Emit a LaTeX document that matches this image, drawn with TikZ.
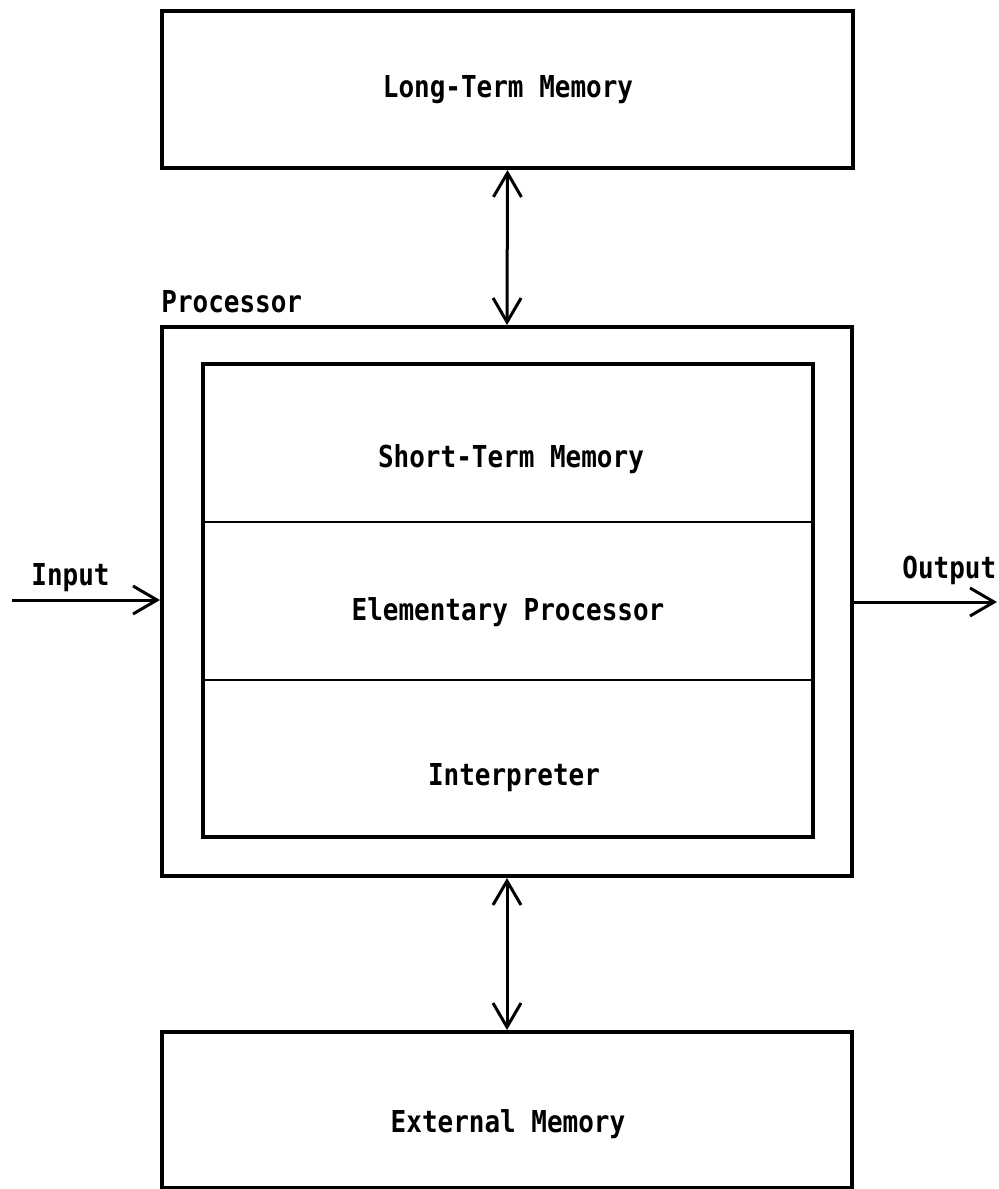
\documentclass[tikz,border=0pt]{standalone}
\usepackage{fontspec}
\setmainfont[FakeStretch=0.86]{DejaVu Sans Mono Bold}
\usetikzlibrary{arrows.meta,fit}
\begin{document}
\begin{tikzpicture}[x=0.5pt,y=-0.5pt,
  box/.style={draw,line width=2pt,inner sep=0pt},
  divider/.style={line width=1.3pt},
  lbl/.style={inner sep=0pt,anchor=base,font=\fontsize{15.1pt}{18pt}\selectfont},
  conn/.style={line width=1.5pt,-{Straight Barb[length=12pt,width=14pt,line width=1.5pt]}},
  biconn/.style={line width=1.5pt,{Straight Barb[length=12pt,width=14pt,line width=1.5pt]}-{Straight Barb[length=12pt,width=14pt,line width=1.5pt]}}]
  \useasboundingbox (0,0) rectangle (998,1189);

  % memories and processor frames
  \node[box,fit={(162,11) (853,168)}] (ltm) {};
  \node[box,fit={(162,327) (852,876)}] (proc) {};
  \node[box,fit={(203,364) (813,837)}] (core) {};
  \node[box,fit={(162,1032) (852,1188)}] (ext) {};

  % sections of the processor core
  \coordinate (d1) at (0,522);
  \coordinate (d2) at (0,680);
  \draw[divider] (core.west |- d1) -- (core.east |- d1);
  \draw[divider] (core.west |- d2) -- (core.east |- d2);

  % labels
  \node[lbl] (ltmtext) at (508,97) {Long-Term Memory};
  \node[lbl,anchor=base west] (proctext) at (161,312) {Processor};
  \node[lbl] (stmtext) at (511,467) {Short-Term Memory};
  \node[lbl] (eptext) at (508,620) {Elementary Processor};
  \node[lbl] (inttext) at (514,785) {Interpreter};
  \node[lbl] (exttext) at (508,1132) {External Memory};
  \node[lbl,anchor=base west] (intext) at (31,585) {Input};
  \node[lbl,anchor=base west] (outtext) at (902,578) {Output};

  % connectors
  \coordinate (inp) at (12,600);
  \coordinate (outp) at (997,602);
  \draw[biconn] (ltm.south) -- (proc.north);
  \draw[biconn] (proc.south) -- (ext.north);
  \draw[conn] (inp) -- (proc.west |- inp);
  \draw[conn] (proc.east |- outp) -- (outp);
\end{tikzpicture}
\end{document}
